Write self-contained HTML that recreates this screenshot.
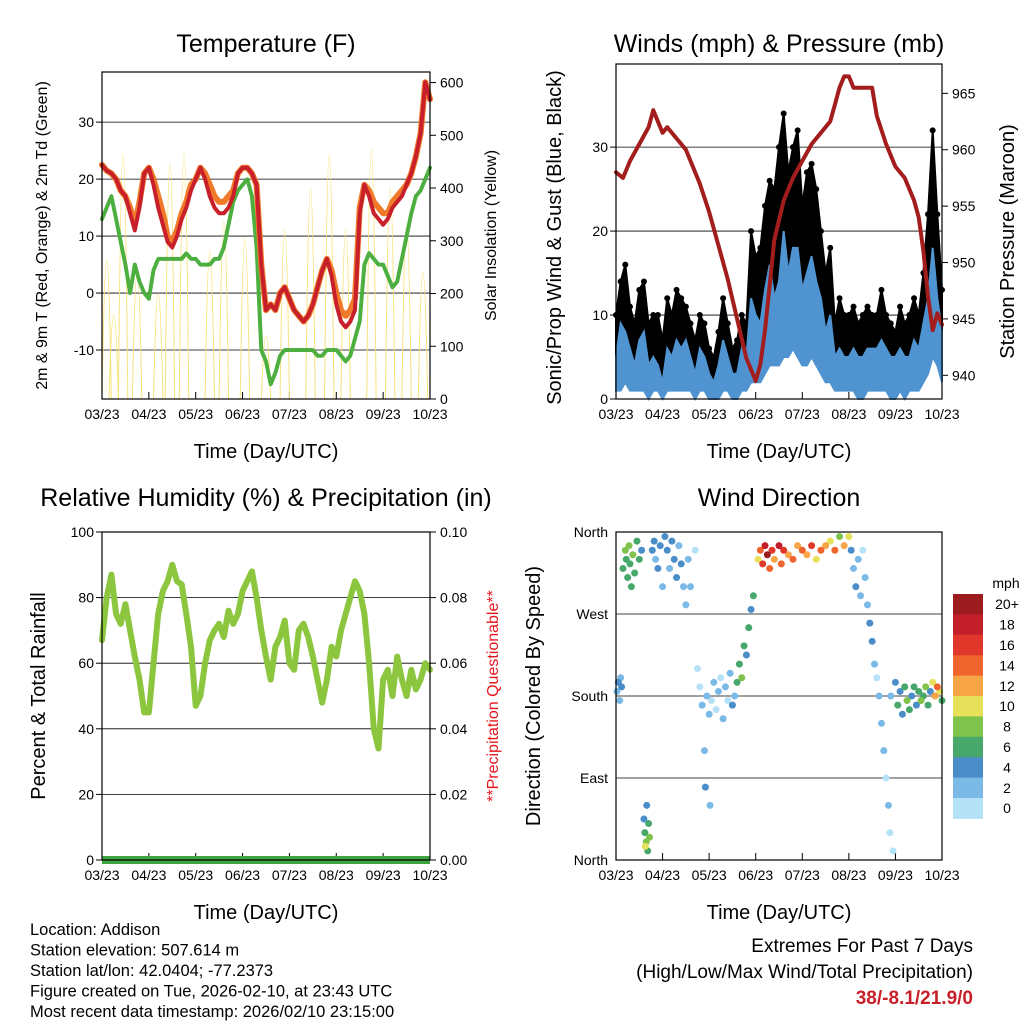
<!DOCTYPE html>
<html><head><meta charset="utf-8"><style>
body{margin:0;background:#fff;}
svg{display:block;font-family:"Liberation Sans",Arial,sans-serif;}
</style></head><body>
<svg id="s" width="1024" height="1024" viewBox="0 0 1024 1024"></svg>
<script>
// ===== DATA (time in months since 03/23) =====
const monthLabels=["03/23","04/23","05/23","06/23","07/23","08/23","09/23","10/23"];
const tGrid=[0,0.1,0.2,0.3,0.4,0.5,0.6,0.7,0.8,0.9,1.0,1.1,1.2,1.3,1.4,1.5,1.6,1.7,1.8,1.9,2.0,2.1,2.2,2.3,2.4,2.5,2.6,2.7,2.8,2.9,3.0,3.1,3.2,3.3,3.4,3.5,3.6,3.7,3.8,3.9,4.0,4.1,4.2,4.3,4.4,4.5,4.6,4.7,4.8,4.9,5.0,5.1,5.2,5.3,5.4,5.5,5.6,5.7,5.8,5.9,6.0,6.1,6.2,6.3,6.4,6.5,6.6,6.7,6.8,6.9,7.0];
const tempRed=[22.5,21.5,21,20,18,17,14,11,15,21,22,19,15,12,9,8,10,13,15,18,20,22,20,17,15,14,14,15,17,21,22,22,21,19,5,-3,-2,-3,0,1,-1,-3,-4,-5,-4,-2,1,4,6,3,-2,-5,-6,-5,-3,14,19,17,14,13,12,13,15,16,17,19,21,24,28,37,34];
const tempOrange=[22.5,21.5,21,20,18,17,15,12,16,21,22,20,17,14,10,9,11,14,16,19,20,22,21,19,17,16,16,17,18,21,22,22,21,19,5,-3,-2,-3,0,1,-1,-3,-4,-5,-4,-2,1,4,6,4,0,-3,-4,-3,-1,15,19,18,16,15,14,14,16,17,18,19,21,24,28,37,34];
const dewGreen=[13,15,17,13,9,5,0,5,2,0,-1,4,6,6,6,6,6,6,7,6,6,5,5,5,6,6,8,12,16,18,19,20,17,8,-10,-12,-16,-14,-11,-10,-10,-10,-10,-10,-10,-10,-11,-11,-10,-10,-10,-11,-12,-11,-8,-5,5,7,6,5,5,3,1,2,6,10,14,17,18,20,22];
const solarT=[0.1,0.25,0.45,0.75,1.2,1.45,1.75,2.3,2.6,3.05,3.5,3.9,4.45,4.85,5.2,5.75,6.15,6.5,6.85];
const solarV=[330,200,580,300,250,560,580,350,420,380,150,400,500,580,400,590,500,410,300];
const windHigh=[5,9,8,6,4,7,8,4,5,4,2,6,5,7,6,7,5,3,6,5,3,2,4,7,5,3,3,6,5,12,10,9,13,16,12,14,20,15,18,18,13,15,17,14,12,8,10,5,6,5,5,6,5,5,6,6,6,7,6,5,5,6,5,5,7,6,9,12,18,12,8];
const windLow=[1,1,2,1,1,1,1,0,1,1,0,1,1,1,1,1,1,0,1,1,0,0,0,1,1,0,0,1,1,2,2,2,3,4,4,4,5,5,6,5,4,4,5,4,3,2,2,1,1,1,1,1,0,0,1,1,1,1,1,0,0,1,0,1,1,1,2,3,5,4,2];
const gustHigh=[10,14,16,11,9,13,14,9,10,10,7,12,10,13,12,11,9,7,10,9,6,5,8,12,9,6,7,10,9,20,17,18,23,26,25,30,34,27,30,32,23,27,28,25,20,15,18,9,12,10,10,11,9,10,11,10,10,13,10,9,8,11,9,10,12,10,15,22,32,22,13];
const gustLow=[3,4,5,4,3,4,4,2,3,3,1,3,3,4,3,3,3,2,3,3,1,1,2,3,3,1,1,3,3,6,6,6,8,10,10,11,13,12,13,12,10,11,12,10,8,5,5,3,3,3,3,3,2,2,3,3,3,3,3,2,2,3,2,3,3,3,5,7,10,8,5];
const pressT=[0,0.15,0.3,0.5,0.7,0.8,0.9,1.0,1.1,1.3,1.5,1.8,2.0,2.2,2.4,2.6,2.8,2.9,3.0,3.1,3.2,3.3,3.4,3.6,3.8,4.0,4.2,4.4,4.6,4.7,4.8,4.9,5.0,5.1,5.3,5.5,5.6,5.8,6.0,6.2,6.4,6.5,6.6,6.7,6.8,6.9,7.0];
const pressV=[958,957.5,959,960.5,962,963.5,962.5,961.5,962,961,960,957,954.5,951.5,948.5,945,941.5,940.5,939.5,941,944,948,952,955.5,957.5,959,960.5,961.5,962.5,964,965.5,966.5,966.5,965.5,965.5,965.5,963,960.5,958.5,957.5,955.5,954,951,947,944,945.5,944.5];
const rh=[67,80,87,75,72,78,70,62,55,45,45,60,75,82,85,90,85,84,75,65,47,50,60,67,70,72,68,76,72,75,82,85,88,80,70,62,55,65,68,73,60,58,70,72,68,62,55,48,55,65,62,70,75,80,85,82,75,60,40,34,55,58,50,62,55,50,58,52,55,60,58];
const precipV=[0,0];
const dirPts=[[0.02,185,3],[0.05,195,4],[0.08,175,3],[0.1,200,2],[0.12,190,4],[0.15,320,6],[0.2,340,8],[0.22,330,7],[0.25,310,6],[0.28,345,8],[0.3,325,7],[0.33,300,6],[0.36,335,8],[0.4,315,6],[0.45,350,7],[0.5,330,6],[0.55,340,4],[0.6,45,4],[0.62,30,6],[0.65,20,8],[0.68,10,7],[0.7,40,6],[0.72,25,8],[0.66,60,4],[0.63,15,10],[0.78,340,4],[0.82,350,4],[0.85,330,3],[0.9,320,4],[0.95,345,4],[1.0,300,2],[1.05,355,4],[1.1,340,4],[1.15,320,3],[1.2,350,4],[1.25,330,4],[1.3,310,4],[1.35,345,3],[1.4,325,4],[1.45,300,2],[1.5,280,3],[1.55,330,2],[1.6,300,2],[1.7,340,1],[1.75,210,1],[1.8,190,1],[1.85,170,2],[1.9,120,3],[1.92,80,4],[1.95,180,2],[2.0,160,2],[2.02,60,3],[2.05,175,1],[2.1,195,2],[2.15,165,1],[2.2,185,2],[2.25,200,1],[2.3,155,2],[2.35,190,3],[2.4,175,1],[2.45,205,2],[2.5,170,4],[2.55,180,3],[2.6,195,6],[2.65,215,6],[2.7,200,8],[2.75,235,6],[2.8,225,4],[2.85,255,6],[2.9,275,4],[2.95,290,6],[3.05,330,10],[3.1,340,14],[3.15,325,16],[3.2,345,18],[3.25,335,20],[3.3,320,14],[3.35,340,16],[3.4,330,12],[3.5,345,18],[3.55,325,14],[3.6,340,16],[3.7,335,12],[3.8,330,14],[3.9,345,12],[4.0,340,14],[4.1,335,12],[4.2,345,16],[4.3,330,10],[4.4,340,14],[4.5,345,12],[4.6,350,10],[4.7,340,14],[4.8,355,8],[4.9,345,12],[5.0,355,10],[5.05,340,4],[5.1,320,2],[5.15,300,4],[5.2,330,3],[5.25,290,2],[5.3,340,1],[5.35,310,2],[5.4,280,3],[5.45,260,4],[5.5,240,4],[5.55,215,2],[5.6,200,1],[5.65,180,2],[5.7,150,2],[5.75,120,2],[5.8,90,1],[5.85,60,2],[5.88,30,1],[5.9,180,2],[5.95,10,1],[6.0,195,4],[6.05,170,6],[6.1,185,5],[6.15,160,4],[6.2,190,6],[6.25,175,8],[6.3,165,6],[6.35,180,4],[6.4,190,6],[6.45,170,5],[6.5,185,6],[6.55,175,8],[6.6,180,6],[6.65,190,8],[6.7,170,6],[6.75,185,4],[6.8,195,10],[6.85,180,12],[6.9,190,14],[6.95,185,10],[7.0,175,6]];
const cbLabels=["20+","18","16","14","12","10","8","6","4","2","0"];
const cbColors=["#9b1b1e","#c31f2a","#e0372b","#ef632d","#f7a547","#e6e05a","#7fc24c","#48a86b","#4a8dc8","#7bb9e6","#b6e2f8"];

// ===== HELPERS =====
const NS="http://www.w3.org/2000/svg";
const svg=document.getElementById('s');
function el(tag,attrs,parent){const e=document.createElementNS(NS,tag);for(const k in attrs)e.setAttribute(k,attrs[k]);(parent||svg).appendChild(e);return e;}
function lin(d0,d1,r0,r1){return v=>r0+(v-d0)/(d1-d0)*(r1-r0);}
function txt(x,y,s,size,anchor,extra){const t=el('text',Object.assign({x:x,y:y,'font-size':size,'text-anchor':anchor||'middle',fill:'#000'},extra||{}));t.textContent=s;return t;}
function vtxt(x,y,s,size,fill){const t=el('text',{x:0,y:0,'font-size':size,'text-anchor':'middle',fill:fill||'#000',transform:`translate(${x},${y}) rotate(-90)`});t.textContent=s;return t;}
function spdColor(s){let i=Math.min(10,Math.floor(s/2));return cbColors[10-i];}

function panel(px0,px1,py0,py1,title,ty){
  const xs=lin(0,7,px0,px1);
  const t=txt((px0+px1)/2,ty,title,25);
  
  
  monthLabels.forEach((m,i)=>{
    const x=xs(i);
    const tk=el('line',{x1:x,x2:x,y1:py1,y2:py1-7,stroke:'#000','stroke-width':1});
    
    
    const l=txt(x,py1+20,m,14);
    
    
  });
  const xt=txt((px0+px1)/2,py1+59,'Time (Day/UTC)',20);
  
  
  return xs;
}
function frame(px0,px1,py0,py1){
  const r=el('rect',{x:px0,y:py0,width:px1-px0,height:py1-py0,fill:'none',stroke:'#000','stroke-width':1.2});
  
  
}
function yTicks(vals,ys,x,side,fmt,grid,px0,px1){
  vals.forEach(v=>{
    const y=ys(v);
    if(grid){const g=el('line',{x1:px0,x2:px1,y1:y,y2:y,stroke:'#000','stroke-width':0.8});
      
      }
    const tk=el('line',{x1:x,x2:x+(side==='l'?-6:6),y1:y,y2:y,stroke:'#000'});
    
    
    const l=txt(side==='l'?x-8:x+10,y+5,fmt(v),14,side==='l'?'end':'start');
    
    
  });
}
function poly(xsArr,ysArr,xs,ys,stroke,w,name,extra){
  const p=xsArr.map((t,i)=>xs(t).toFixed(1)+','+ys(ysArr[i]).toFixed(1)).join(' ');
  const e=el('polyline',Object.assign({points:p,fill:'none',stroke:stroke,'stroke-width':w,'stroke-linejoin':'round','stroke-linecap':'round'},extra||{}));
  
  
  return e;
}

// ===== PANEL 1: Temperature =====
(function(){
  const X0=102,X1=430,Y0=72,Y1=399;
  const xs=panel(X0,X1,Y0,Y1,'Temperature (F)',52);
  const ys=lin(-18.6,38.8,Y1,Y0);
  const ys2=lin(0,620,Y1,Y0);
  yTicks([-10,0,10,20,30],ys,X0,'l',v=>v,true,X0,X1);
  yTicks([0,100,200,300,400,500,600],ys2,X1,'r',v=>v,false);
  solarT.forEach((t,i)=>{
    const x0=xs(t-0.1),x1=xs(t+0.1),xm=xs(t),yp=ys2(solarV[i]);
    const d=`M${x0},${Y1} Q${xm},${yp-(Y1-yp)*0.6} ${x1},${Y1}`;
    const e=el('path',{d:d,fill:'none',stroke:'#f7e27a','stroke-width':1});
    
    
  });
  poly(tGrid,dewGreen,xs,ys,'#4daf3f',4,'dewpoint-line',{'stroke-dasharray':'2 1.5'});
  poly(tGrid,tempOrange,xs,ys,'#f07a2a',6,'temp-9m-line');
  poly(tGrid,tempRed,xs,ys,'#c8202a',4,'temp-2m-line');
  frame(X0,X1,Y0,Y1);
  const a=vtxt(47,(Y0+Y1)/2,'2m & 9m T (Red, Orange) & 2m Td (Green)',16);
  
  
  const b=vtxt(496,(Y0+Y1)/2,'Solar Insolation (Yellow)',16);
  
  
})();

// ===== PANEL 2: Winds & Pressure =====
(function(){
  const X0=616,X1=942,Y0=64,Y1=399;
  const xs=panel(X0,X1,Y0,Y1,'Winds (mph) & Pressure (mb)',52);
  const ys=lin(0,39.9,Y1,Y0);
  const ys2=lin(937.9,967.6,Y1,Y0);
  yTicks([0,10,20,30],ys,X0,'l',v=>v,true,X0,X1);
  yTicks([940,945,950,955,960,965],ys2,X1,'r',v=>v,false);
  const gp=tGrid.map((t,i)=>xs(t)+','+ys(gustHigh[i])).concat(tGrid.slice().reverse().map((t,j)=>{const i=tGrid.length-1-j;return xs(t)+','+ys(gustLow[i]);})).join(' ');
  const g=el('polygon',{points:gp,fill:'#000',stroke:'#000','stroke-width':2});
  
  
  tGrid.forEach((t,i)=>{
    const c=el('circle',{cx:xs(t),cy:ys(gustHigh[i]),r:3,fill:'#000'});
    
    
  });
  const wp=tGrid.map((t,i)=>xs(t)+','+ys(windHigh[i])).concat(tGrid.slice().reverse().map((t,j)=>{const i=tGrid.length-1-j;return xs(t)+','+ys(windLow[i]);})).join(' ');
  const w=el('polygon',{points:wp,fill:'#4f94d0',stroke:'#4f94d0','stroke-width':2});
  
  
  poly(pressT,pressV,xs,ys2,'#a31d1d',4,'pressure-line');
  frame(X0,X1,Y0,Y1);
  const a=vtxt(561,(Y0+Y1)/2+6,'Sonic/Prop Wind & Gust (Blue, Black)',20);
  
  
  const b=vtxt(1014,(Y0+Y1)/2+10,'Station Pressure (Maroon)',20);
  
  
})();

// ===== PANEL 3: RH & Precip =====
(function(){
  const X0=102,X1=430,Y0=532,Y1=860;
  const xs=panel(X0,X1,Y0,Y1,'Relative Humidity (%) & Precipitation (in)',506);
  const ys=lin(0,100,Y1,Y0);
  const ys2=lin(0,0.1,Y1,Y0);
  yTicks([0,20,40,60,80,100],ys,X0,'l',v=>v,true,X0,X1);
  yTicks([0,0.02,0.04,0.06,0.08,0.1],ys2,X1,'r',v=>v.toFixed(2),false);
  poly(tGrid,rh,xs,ys,'#8cc63f',6,'relative-humidity-line');
  poly([0,7],precipV,xs,ys2,'#3fa33f',8,'precipitation-line',{'stroke-linecap':'butt'});
  frame(X0,X1,Y0,Y1);
  const a=vtxt(45,(Y0+Y1)/2,'Percent & Total Rainfall',20);
  
  
  const b=vtxt(498,(Y0+Y1)/2,'**Precipitation Questionable**',16,'#e8141c');
  
  
})();

// ===== PANEL 4: Wind direction =====
(function(){
  const X0=616,X1=942,Y0=532,Y1=860;
  const xs=panel(X0,X1,Y0,Y1,'Wind Direction',506);
  const ys=lin(0,360,Y1,Y0);
  const names=['North','East','South','West','North'];
  [0,90,180,270,360].forEach((v,i)=>{
    const y=ys(v);
    const g=el('line',{x1:X0,x2:X1,y1:y,y2:y,stroke:'#000','stroke-width':0.8});
    
    
    const l=txt(X0-8,y+5,names[i],14,'end');
    
    
  });
  dirPts.slice().sort((a,b)=>a[2]-b[2]).forEach(p=>{
    const c=el('circle',{cx:xs(p[0]),cy:ys(p[1]),r:3.5,fill:spdColor(p[2])});
    
    
  });
  frame(X0,X1,Y0,Y1);
  const a=vtxt(540,(Y0+Y1)/2,'Direction (Colored By Speed)',20);
  
  
  const h=txt(1006,588,'mph',14);
  
  
  const bh=20.4;
  cbColors.forEach((c,i)=>{
    const r=el('rect',{x:953,y:594+i*bh,width:30,height:bh+0.5,fill:c});
    
    
    const l=txt(1007,594+i*bh+bh/2+5,cbLabels[i],14);
    
    
  });
})();

// ===== footer text =====
const info=["Location: Addison","Station elevation: 507.614 m","Station lat/lon: 42.0404; -77.2373","Figure created on Tue, 2026-02-10, at 23:43 UTC","Most recent data timestamp: 2026/02/10 23:15:00"];
info.forEach((s,i)=>{
  const t=txt(30,935+i*20.5,s,16.5,'start');
  
  
});
const e1=txt(973,952,'Extremes For Past 7 Days',19,'end');


const e2=txt(973,978,'(High/Low/Max Wind/Total Precipitation)',19,'end');


const e3=txt(973,1004,'38/-8.1/21.9/0',19,'end',{fill:'#c8202a','font-weight':'bold'});


</script>
</body></html>
